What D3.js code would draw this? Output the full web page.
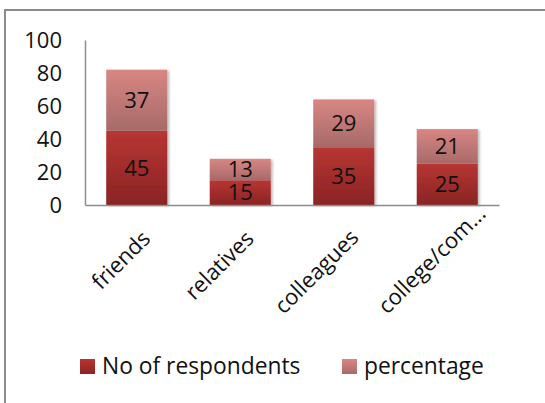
<!DOCTYPE html>
<html>
<head>
<meta charset="utf-8">
<script src="https://cdn.jsdelivr.net/npm/d3@7"></script>
<style>
	body { margin: 0; background: #fff; }
	text { font-family: "Open Sans", Lato, sans-serif; fill: #111; }
</style>
</head>
<body>
<div id="chart"></div>
<script>
// chart values
var categories = ["friends", "relatives", "colleagues", "college/com..."];
var respondents = [45, 15, 35, 25];
var percentage = [37, 13, 29, 21];
var seriesNames = ["No of respondents", "percentage"];
var yTicks = [0, 20, 40, 60, 80, 100];

var width = 545, height = 403,
	margin = { top: 40, right: 46, bottom: 198, left: 85 },
	innerW = width - margin.left - margin.right,
	innerH = height - margin.top - margin.bottom,
	fontSize = "22px";

var svg = d3.select("#chart").append("svg")
	.attr("width", width)
	.attr("height", height);

var defs = svg.append("defs");
function grad(id, top, bottom) {
	var g = defs.append("linearGradient").attr("id", id)
		.attr("x1", 0).attr("y1", 0).attr("x2", 0).attr("y2", 1);
	g.append("stop").attr("offset", "0%").attr("stop-color", top);
	g.append("stop").attr("offset", "100%").attr("stop-color", bottom);
}
grad("gDark", "#b83532", "#8a2424");
grad("gLight", "#d98683", "#a66a69");

var shadow = defs.append("filter").attr("id", "shadow")
	.attr("x", "-10%").attr("y", "-10%").attr("width", "130%").attr("height", "130%");
shadow.append("feDropShadow").attr("dx", 2).attr("dy", 1).attr("stdDeviation", 1.2)
	.attr("flood-color", "#000").attr("flood-opacity", 0.25);

// outer frame
svg.append("path")
	.attr("d", "M5,403 L5,10 L545,10")
	.attr("fill", "none")
	.attr("stroke", "#8c8c8c")
	.attr("stroke-width", 2);

var g = svg.append("g").attr("transform", "translate(" + margin.left + "," + margin.top + ")");

var x = d3.scaleBand().domain(categories).range([0, innerW]).paddingInner(0.41).paddingOuter(0.205);
var y = d3.scaleLinear().domain([0, 100]).range([innerH, 0]);

var yAxis = g.append("g")
	.call(d3.axisLeft(y).tickValues(yTicks).tickSize(0).tickPadding(23));
yAxis.select(".domain").attr("stroke", "#8c8c8c").attr("stroke-width", 1.5);
yAxis.selectAll("text").style("font-size", fontSize).attr("dy", "0.35em");

var rows = categories.map(function(c, i) {
	return { cat: c, a: respondents[i], b: percentage[i] };
});

var bars = g.selectAll(".bar").data(rows).enter().append("g")
	.attr("class", "bar").attr("filter", "url(#shadow)");

bars.append("rect")
	.attr("x", function(d) { return x(d.cat); })
	.attr("width", x.bandwidth())
	.attr("y", function(d) { return y(d.a); })
	.attr("height", function(d) { return y(0) - y(d.a); })
	.attr("fill", "url(#gDark)");

bars.append("rect")
	.attr("x", function(d) { return x(d.cat); })
	.attr("width", x.bandwidth())
	.attr("y", function(d) { return y(d.a + d.b); })
	.attr("height", function(d) { return y(d.a) - y(d.a + d.b); })
	.attr("fill", "url(#gLight)");

var labels = g.selectAll(".lbl").data(rows).enter().append("g");
labels.append("text")
	.attr("x", function(d) { return x(d.cat) + x.bandwidth() / 2; })
	.attr("y", function(d) { return y(d.a / 2); })
	.attr("dy", "0.35em")
	.attr("text-anchor", "middle")
	.style("font-size", fontSize)
	.text(function(d) { return d.a; });
labels.append("text")
	.attr("x", function(d) { return x(d.cat) + x.bandwidth() / 2; })
	.attr("y", function(d) { return y(d.a + d.b / 2); })
	.attr("dy", "0.35em")
	.attr("text-anchor", "middle")
	.style("font-size", fontSize)
	.text(function(d) { return d.b; });

// x axis, labels rotated -45 and kept above a bottom limit
var xAxis = g.append("g")
	.attr("transform", "translate(0," + innerH + ")")
	.call(d3.axisBottom(x).tickSize(0).tickPadding(0));
xAxis.select(".domain").attr("stroke", "#8c8c8c").attr("stroke-width", 1.5);
var k = Math.SQRT1_2, maxDrop = 110;
xAxis.selectAll("text")
	.style("font-size", fontSize)
	.attr("text-anchor", "end")
	.attr("dy", 0)
	.attr("transform", function() {
		var len = this.getComputedTextLength(),
			ex = 15, ey = 35,
			drop = ey + len * k;
		if (drop > maxDrop) {
			var s = (drop - maxDrop) / k;
			ex += s * k;
			ey -= s * k;
		}
		return "translate(" + ex + "," + ey + ") rotate(-45)";
	});

// legend
var legend = svg.append("g").attr("transform", "translate(80,366)");
var legX = [0, 262];
var legFill = ["url(#gDark)", "url(#gLight)"];
seriesNames.forEach(function(name, i) {
	var item = legend.append("g").attr("transform", "translate(" + legX[i] + ",0)");
	item.append("rect").attr("x", 0).attr("y", -7).attr("width", 15).attr("height", 15).attr("fill", legFill[i]);
	item.append("text").attr("x", 22).attr("y", 0).attr("dy", "0.35em")
		.style("font-size", "22.8px").text(name);
});
</script>
</body>
</html>
